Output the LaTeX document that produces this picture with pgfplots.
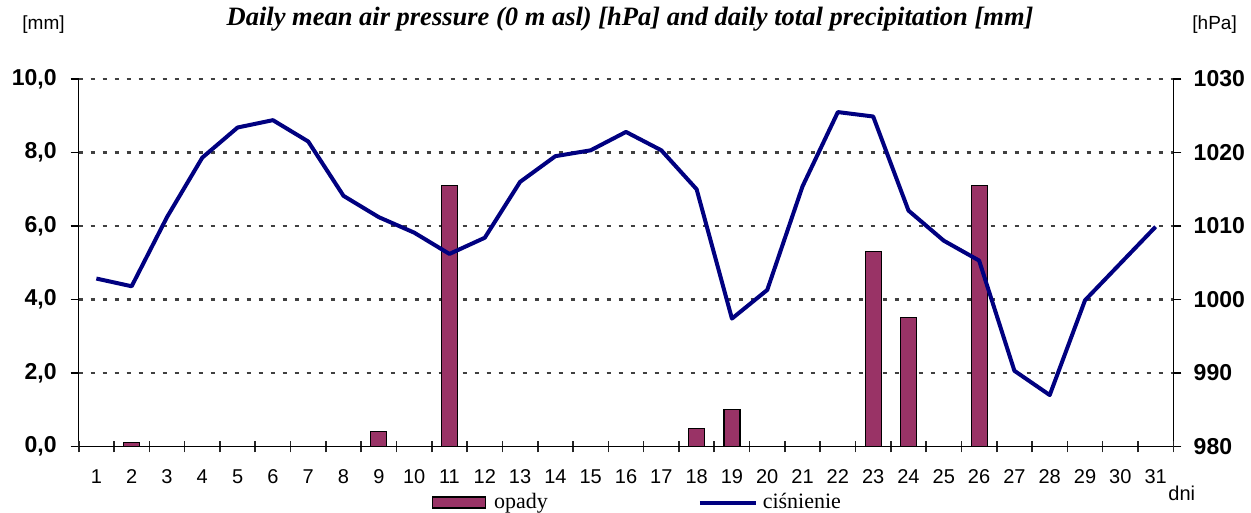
\documentclass[border=0pt]{standalone}
\usepackage{fontspec}
\setmainfont{Liberation Sans}
\newfontfamily\tnr{Liberation Serif}
\usepackage{pgfplots}
\pgfplotsset{compat=1.18}
\definecolor{plum}{HTML}{993366}
\definecolor{navyline}{HTML}{000080}

\pgfplotsset{
  common/.style={
    scale only axis, width=547.3pt, height=183.75pt,
    xmin=0.5, xmax=31.5,
    axis line style={-, black, line width=0.6pt},
    /pgf/number format/assume math mode=true,
  }
}

\begin{document}
\begin{tikzpicture}
\path[use as bounding box] (-39.35pt,-33.25pt) rectangle (586.15pt,223.25pt);

% Axis A: precipitation bars, left axis, day labels
\begin{axis}[common,
  ymin=0, ymax=10, ytick={2,4,...,10},
  extra y ticks={0},
  extra y tick style={ymajorgrids=false},
  axis y line*=left, axis x line*=bottom,
  ymajorgrids,
  major grid style={black!75, line width=1.3pt, dash pattern=on 2pt off 4pt},
  xtick={0.5,1.5,...,31.5},
  x tick label as interval,
  xticklabels={1,2,3,4,5,6,7,8,9,10,11,12,13,14,15,16,17,18,19,20,21,22,23,24,25,26,27,28,29,30,31},
  xtick style={draw=none},
  xtick align=inside,
  ytick align=outside,
  major tick length=4pt,
  y tick style={black, line width=0.6pt},
  xticklabel style={font=\fontsize{10}{12}\selectfont, inner sep=0pt, anchor=north, yshift=-7.25pt},
  yticklabel style={font=\fontsize{11.5}{13}\selectfont\bfseries, inner sep=0pt, anchor=east, xshift=-6.85pt,
    /pgf/number format/.cd, fixed, fixed zerofill, precision=1, use comma},
  ybar, bar width=8pt,
]
\addplot[fill=plum, draw=black, line width=0.6pt] coordinates {
  (2,0.1) (9,0.4) (11,7.1) (18,0.5) (19,1.0) (23,5.3) (24,3.5) (26,7.1)
};
\end{axis}

% Axis B: pressure line, right axis
\begin{axis}[common,
  clip=false,
  ymin=980, ymax=1030, ytick={980,990,...,1030},
  axis y line*=right, axis x line=none,
  ytick align=outside,
  major tick length=4pt,
  y tick style={black, line width=0.6pt},
  yticklabel style={font=\fontsize{11.5}{13}\selectfont\bfseries, inner sep=0pt, anchor=west, xshift=6pt,
    /pgf/number format/.cd, fixed, precision=0, 1000 sep={}},
  legend columns=2,
  legend style={at={(axis description cs:0.3228,-0.1524)}, anchor=west,
    draw=none, fill=none, inner sep=0pt, outer sep=0pt,
    font=\tnr\fontsize{11}{13}\selectfont,
    nodes={inner sep=0pt},
    /tikz/every odd column/.append style={column sep=2.5pt},
    /tikz/every even column/.append style={column sep=75pt}},
]
\addlegendimage{legend image code/.code={
  \draw[fill=plum, draw=black, line width=0.6pt] (0pt,-2.75pt) rectangle (26.5pt,2.75pt);
  \path (28pt,0pt);}}
\addlegendentry{opady}
\addplot[navyline, line width=2pt, line join=round,
  legend image code/.code={\draw[navyline, line width=2pt] (0pt,0pt) -- (28pt,0pt);}]
coordinates {
  (1,1002.85) (2,1001.8) (3,1011.2) (4,1019.3) (5,1023.4) (6,1024.4) (7,1021.5)
  (8,1014.1) (9,1011.2) (10,1009.1) (11,1006.2) (12,1008.4) (13,1016.0) (14,1019.5)
  (15,1020.3) (16,1022.8) (17,1020.3) (18,1015.0) (19,997.4) (20,1001.3) (21,1015.4)
  (22,1025.5) (23,1024.9) (24,1012.1) (25,1008.0) (26,1005.3) (27,990.3) (28,987.0)
  (29,999.9) (30,1004.9) (31,1009.9)
};
\addlegendentry{ciśnienie}
\node[anchor=base, inner sep=0pt, font=\tnr\fontsize{13.25}{15}\selectfont\bfseries\itshape]
  at (axis description cs:0.5037,1.1469)
  {Daily mean air pressure (0 m asl) [hPa] and daily total precipitation [mm]};
\node[anchor=base west, inner sep=0pt, font=\fontsize{9.5}{11}\selectfont]
  at (axis description cs:-0.0518,1.136) {[mm]};
\node[anchor=base west, inner sep=0pt, font=\fontsize{9.5}{11}\selectfont]
  at (axis description cs:1.0171,1.136) {[hPa]};
\node[anchor=base west, inner sep=0pt, font=\fontsize{10}{12}\selectfont]
  at (axis description cs:0.9952,-0.1475) {dni};
\end{axis}

% Axis C: category separator ticks on the x axis
\begin{axis}[common,
  ymin=0, ymax=1,
  axis x line*=bottom, axis y line=none,
  xtick={0.5,1.5,...,31.5}, xticklabels={},
  xtick align=center,
  major tick length=5.85pt,
  x tick style={black!85, line width=0.8pt},
]
\end{axis}
\end{tikzpicture}
\end{document}
